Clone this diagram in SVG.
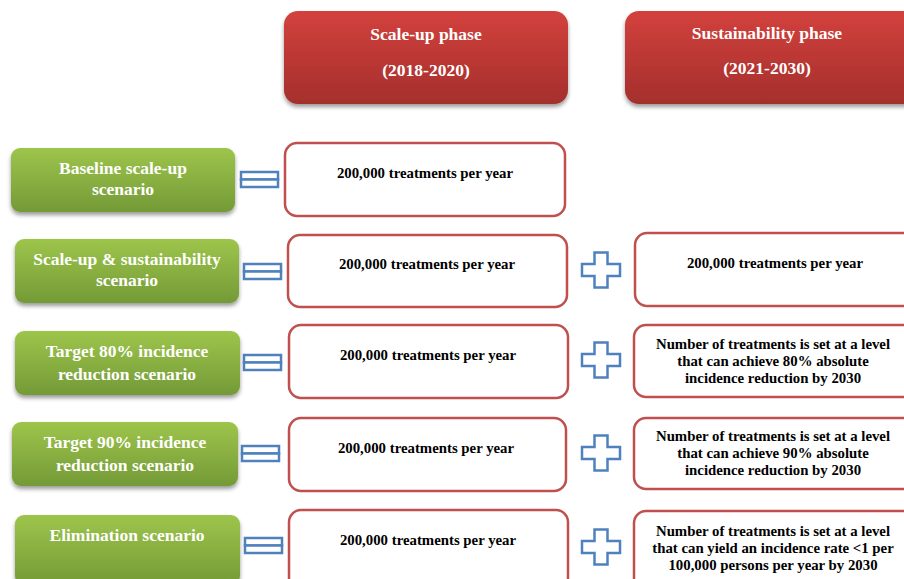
<svg xmlns="http://www.w3.org/2000/svg" width="904" height="579" viewBox="0 0 904 579">
<defs>
<linearGradient id="gRed" x1="0" y1="0" x2="0" y2="1">
<stop offset="0" stop-color="#d3413d"/>
<stop offset="1" stop-color="#a42f2c"/>
</linearGradient>
<linearGradient id="gGreen" x1="0" y1="0" x2="0" y2="1">
<stop offset="0" stop-color="#9dc54b"/>
<stop offset="1" stop-color="#749a37"/>
</linearGradient>
<filter id="sh" x="-10%" y="-10%" width="120%" height="140%">
<feGaussianBlur in="SourceAlpha" stdDeviation="2"/>
<feOffset dx="0" dy="3" result="b"/>
<feComponentTransfer><feFuncA type="linear" slope="0.4"/></feComponentTransfer>
<feMerge><feMergeNode/><feMergeNode in="SourceGraphic"/></feMerge>
</filter>
<path id="plus" d="M-6.5,-17.5 h13 v11.5 h12.5 v12 h-12.5 v11.5 h-13 v-11.5 h-12.5 v-12 h12.5 z"/>
<g id="eq">
<rect x="0" y="0" width="37" height="7.5"/>
<rect x="0" y="7.5" width="37" height="7.5"/>
</g>
</defs>
<style>
.hdr{fill:url(#gRed);filter:url(#sh)}
.grn{fill:url(#gGreen);filter:url(#sh)}
.box{fill:#ffffff;stroke:#c0504d;stroke-width:2.5}
.sym{fill:#ffffff;stroke:#4f81bd;stroke-width:2.5}
.ht{font-family:"Liberation Serif",serif;font-weight:bold;font-size:17.5px;fill:#ffffff;text-anchor:middle}
.gt{font-family:"Liberation Serif",serif;font-weight:bold;font-size:17.5px;fill:#ffffff;text-anchor:middle}
.bt{font-family:"Liberation Serif",serif;font-weight:bold;font-size:14.8px;fill:#000000;text-anchor:middle}
</style>
<g id="hdr-scaleup">
<rect class="hdr" x="284" y="11" width="284" height="93" rx="14"/>
<text class="ht" x="426" y="40">Scale-up phase</text>
<text class="ht" x="426" y="76">(2018-2020)</text>
</g>
<g id="hdr-sustain">
<rect class="hdr" x="625" y="11" width="295" height="93" rx="14"/>
<text class="ht" x="767" y="39">Sustainability phase</text>
<text class="ht" x="767" y="74">(2021-2030)</text>
</g>

<g id="sc1">
<rect class="grn" x="11" y="148" width="224" height="64" rx="9"/>
<text class="gt" x="123" y="174">Baseline scale-up</text>
<text class="gt" x="123" y="195">scenario</text>
</g>
<g id="sc2">
<rect class="grn" x="15" y="239" width="224" height="64" rx="9"/>
<text class="gt" x="127" y="265">Scale-up &amp; sustainability</text>
<text class="gt" x="127" y="286">scenario</text>
</g>
<g id="sc3">
<rect class="grn" x="15" y="331" width="225" height="64" rx="9"/>
<text class="gt" x="127" y="357">Target 80% incidence</text>
<text class="gt" x="127" y="380">reduction scenario</text>
</g>
<g id="sc4">
<rect class="grn" x="12" y="422" width="226" height="64" rx="9"/>
<text class="gt" x="125" y="448">Target 90% incidence</text>
<text class="gt" x="125" y="471">reduction scenario</text>
</g>
<g id="sc5">
<rect class="grn" x="15" y="515" width="225" height="70" rx="9"/>
<text class="gt" x="127" y="541">Elimination scenario</text>
</g>

<g id="s1">
<rect class="box" x="285" y="143" width="280" height="73" rx="12"/>
<text class="bt" x="425" y="178">200,000 treatments per year</text>
</g>
<g id="s2">
<rect class="box" x="288" y="235" width="279" height="72" rx="12"/>
<text class="bt" x="427" y="269">200,000 treatments per year</text>
</g>
<g id="s3">
<rect class="box" x="289" y="325" width="279" height="73" rx="12"/>
<text class="bt" x="428" y="360">200,000 treatments per year</text>
</g>
<g id="s4">
<rect class="box" x="289" y="418" width="277" height="73" rx="12"/>
<text class="bt" x="426" y="453">200,000 treatments per year</text>
</g>
<g id="s5">
<rect class="box" x="289" y="510" width="279" height="80" rx="12"/>
<text class="bt" x="428" y="545">200,000 treatments per year</text>
</g>

<g id="t2">
<rect class="box" x="635" y="233" width="285" height="73" rx="12"/>
<text class="bt" x="775" y="268">200,000 treatments per year</text>
</g>
<g id="t3">
<rect class="box" x="634" y="325" width="285" height="72" rx="12"/>
<text class="bt" x="773" y="349">Number of treatments is set at a level</text>
<text class="bt" x="773" y="366">that can achieve 80% absolute</text>
<text class="bt" x="773" y="383">incidence reduction by 2030</text>
</g>
<g id="t4">
<rect class="box" x="634" y="418" width="285" height="71" rx="12"/>
<text class="bt" x="773" y="441">Number of treatments is set at a level</text>
<text class="bt" x="773" y="458">that can achieve 90% absolute</text>
<text class="bt" x="773" y="475">incidence reduction by 2030</text>
</g>
<g id="t5">
<rect class="box" x="634" y="511" width="285" height="80" rx="12"/>
<text class="bt" x="773" y="536">Number of treatments is set at a level</text>
<text class="bt" x="773" y="553">that can yield an incidence rate &lt;1 per</text>
<text class="bt" x="773" y="570">100,000 persons per year by 2030</text>
</g>

<g id="connectors">
<use class="sym" href="#eq" x="241" y="172"/>
<use class="sym" href="#eq" x="244" y="264"/>
<use class="sym" href="#eq" x="244" y="355"/>
<use class="sym" href="#eq" x="242" y="446"/>
<use class="sym" href="#eq" x="245" y="538"/>
<use class="sym" href="#plus" x="601" y="270"/>
<use class="sym" href="#plus" x="601" y="360"/>
<use class="sym" href="#plus" x="601" y="453"/>
<use class="sym" href="#plus" x="601" y="547"/>
</g>
</svg>
